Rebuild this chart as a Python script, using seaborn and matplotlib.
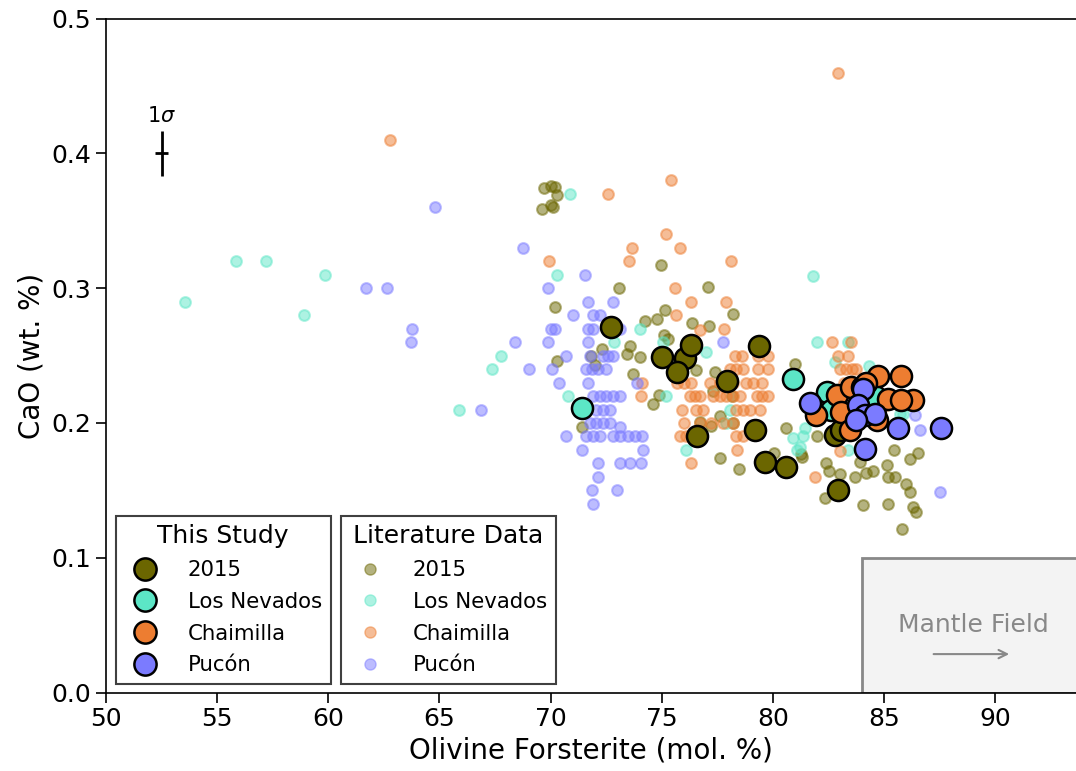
import numpy as np
import pandas as pd
import seaborn as sns
import matplotlib
matplotlib.use("Agg")
import matplotlib.pyplot as plt
from matplotlib.lines import Line2D
from matplotlib.patches import Rectangle

# ---------------- data ----------------
groups = ["2015", "Los Nevados", "Chaimilla", "Pucón"]
colors = ["#6b6600", "#5ce6c6", "#ed7d31", "#7b7bff"]

lit_2015_x = [69.7, 70.0, 70.2, 70.3, 69.6, 70.0, 70.1, 70.2, 70.3, 74.98, 73.07, 77.07, 75.13, 74.77,
              74.23, 76.38, 77.13, 78.18, 75.1, 75.28, 73.56, 73.44, 72.32, 74.04, 71.8, 71.99, 73.7,
              76.56, 77.4, 74.87, 74.59, 71.39, 77.3, 78.16, 77.6, 76.7, 77.2, 78.2, 77.6, 78.47,
              80.98, 80.6, 81.96, 81.28, 80.05, 81.3, 82.4, 82.5, 83.0, 82.33, 83.68, 84.2, 84.5,
              83.9, 85.43, 85.13, 85.17, 85.5, 86.15, 86.52, 86.0, 86.15, 86.3, 86.45, 84.05, 85.18, 85.8]
lit_2015_y = [0.374, 0.376, 0.375, 0.369, 0.359, 0.362, 0.360, 0.286, 0.246, 0.317, 0.300, 0.301, 0.284, 0.277,
              0.276, 0.274, 0.272, 0.281, 0.265, 0.262, 0.257, 0.251, 0.255, 0.249, 0.250, 0.243, 0.236,
              0.239, 0.238, 0.221, 0.214, 0.197, 0.224, 0.220, 0.205, 0.201, 0.198, 0.200, 0.174, 0.166,
              0.244, 0.196, 0.190, 0.177, 0.178, 0.175, 0.170, 0.164, 0.162, 0.144, 0.160, 0.163, 0.164,
              0.171, 0.180, 0.169, 0.160, 0.160, 0.173, 0.178, 0.155, 0.149, 0.138, 0.134, 0.139, 0.140, 0.121]

lit_ln_x = [53.55, 55.85, 57.18, 58.9, 59.85, 65.87, 67.37, 67.76, 70.3, 70.86, 70.79, 72.87, 74.01,
            75.06, 75.18, 76.08, 76.98, 78.06, 77.9, 81.8, 82.0, 83.38, 82.78, 84.32, 80.9, 81.36,
            81.43, 81.2, 81.1, 83.38, 85.85, 82.9, 85.7, 84.8]
lit_ln_y = [0.29, 0.32, 0.32, 0.28, 0.31, 0.21, 0.24, 0.25, 0.31, 0.37, 0.22, 0.26, 0.27,
            0.26, 0.22, 0.18, 0.253, 0.21, 0.20, 0.309, 0.26, 0.26, 0.245, 0.242, 0.189, 0.19,
            0.196, 0.182, 0.18, 0.18, 0.207, 0.215, 0.207, 0.22]

lit_ch_x = [62.77, 82.91, 69.93, 72.6, 75.42, 73.65, 75.2, 75.81, 73.52, 78.09, 75.6, 76.32, 77.9, 75.66,
            76.7, 77.79,
            78.3, 78.6, 79.33, 79.78,
            78.06, 78.35, 78.65, 79.33, 79.78,
            74.1, 75.7, 76.0, 76.33, 77.16, 77.6, 77.9, 78.2, 78.8, 79.1, 79.5,
            74.07, 76.26, 76.5, 76.7, 77.3, 77.6, 77.9, 78.2, 78.5, 79.26, 79.5, 79.78,
            75.9, 76.56, 76.86, 78.35, 78.65, 78.96, 79.4,
            76.0, 76.7, 77.2, 77.76, 78.2,
            75.8, 76.1, 76.4, 78.35, 78.65,
            78.39, 76.3, 81.9, 83.0,
            82.66, 83.5, 82.93, 83.38, 83.0, 83.3, 83.55, 83.75, 83.2, 84.0, 85.1]
lit_ch_y = [0.41, 0.46, 0.32, 0.37, 0.38, 0.33, 0.34, 0.33, 0.32, 0.32, 0.30, 0.29, 0.29, 0.28,
            0.269, 0.27,
            0.25, 0.25, 0.25, 0.25,
            0.24, 0.24, 0.24, 0.24, 0.24,
            0.23, 0.23, 0.23, 0.23, 0.23, 0.23, 0.23, 0.23, 0.23, 0.23, 0.23,
            0.22, 0.22, 0.22, 0.22, 0.22, 0.22, 0.22, 0.22, 0.22, 0.22, 0.22, 0.22,
            0.21, 0.21, 0.21, 0.21, 0.21, 0.21, 0.21,
            0.20, 0.20, 0.20, 0.20, 0.20,
            0.19, 0.19, 0.19, 0.19, 0.19,
            0.18, 0.17, 0.16, 0.179,
            0.26, 0.26, 0.25, 0.25, 0.24, 0.24, 0.24, 0.24, 0.23, 0.22, 0.213]

lit_pu_x = [64.8, 68.75, 61.69, 62.62, 63.75, 63.7, 66.85, 69.87, 70.0, 70.2, 68.39, 69.86, 69.03, 70.04,
            70.38, 71.53, 71.69, 72.81, 71.0, 71.9, 72.2, 71.69, 71.9, 73.1, 71.69, 70.7, 71.76, 72.35,
            72.6, 72.8, 71.6, 71.85, 72.14, 72.5, 71.69, 73.9,
            71.9, 72.2, 72.5, 72.8, 73.1,
            72.05, 72.35, 72.66,
            71.76, 72.05, 72.35, 72.66, 73.1,
            70.68, 71.6, 71.9, 72.2, 72.8, 73.1, 73.5, 73.8, 74.1,
            71.43, 74.16, 72.14, 73.1, 73.56, 74.08, 72.14, 71.86, 72.99, 71.9,
            77.73, 86.38, 86.6, 87.5]
lit_pu_y = [0.36, 0.33, 0.30, 0.30, 0.27, 0.26, 0.21, 0.30, 0.27, 0.27, 0.26, 0.26, 0.24, 0.24,
            0.23, 0.31, 0.29, 0.29, 0.28, 0.28, 0.28, 0.27, 0.27, 0.27, 0.26, 0.25, 0.25, 0.25,
            0.25, 0.25, 0.24, 0.24, 0.24, 0.24, 0.23, 0.23,
            0.22, 0.22, 0.22, 0.22, 0.22,
            0.21, 0.21, 0.21,
            0.20, 0.20, 0.20, 0.20, 0.197,
            0.19, 0.19, 0.19, 0.19, 0.19, 0.19, 0.19, 0.19, 0.19,
            0.18, 0.18, 0.17, 0.17, 0.17, 0.17, 0.16, 0.15, 0.15, 0.14,
            0.26, 0.206, 0.195, 0.149]

st_2015_x = [72.71, 75.0, 76.05, 76.3, 75.7, 76.6, 77.92, 79.38, 79.18, 79.65, 80.6, 82.92, 82.8, 83.05]
st_2015_y = [0.271, 0.249, 0.248, 0.258, 0.238, 0.190, 0.231, 0.257, 0.195, 0.171, 0.167, 0.150, 0.191, 0.195]
st_ln_x = [71.43, 80.92, 82.45, 82.6, 84.6]
st_ln_y = [0.211, 0.233, 0.223, 0.210, 0.220]
st_ch_x = [84.73, 85.78, 85.18, 86.32, 85.75, 82.9, 81.95, 83.08, 83.45, 84.7, 83.5, 84.0, 84.2]
st_ch_y = [0.235, 0.235, 0.218, 0.217, 0.217, 0.221, 0.206, 0.208, 0.195, 0.202, 0.227, 0.227, 0.230]
st_pu_x = [81.65, 84.05, 83.83, 84.15, 84.6, 83.75, 85.63, 87.57, 84.15]
st_pu_y = [0.215, 0.225, 0.213, 0.206, 0.207, 0.202, 0.196, 0.196, 0.181]

xticks = [50, 55, 60, 65, 70, 75, 80, 85, 90]
yticks = [0.0, 0.1, 0.2, 0.3, 0.4, 0.5]
ytick_labels = ["0.0", "0.1", "0.2", "0.3", "0.4", "0.5"]

# ---------------- build tables ----------------
lit = pd.concat([
    pd.DataFrame({"Fo": lit_2015_x, "CaO": lit_2015_y, "group": "2015"}),
    pd.DataFrame({"Fo": lit_ln_x, "CaO": lit_ln_y, "group": "Los Nevados"}),
    pd.DataFrame({"Fo": lit_ch_x, "CaO": lit_ch_y, "group": "Chaimilla"}),
    pd.DataFrame({"Fo": lit_pu_x, "CaO": lit_pu_y, "group": "Pucón"}),
], ignore_index=True)
study = pd.concat([
    pd.DataFrame({"Fo": st_2015_x, "CaO": st_2015_y, "group": "2015"}),
    pd.DataFrame({"Fo": st_ln_x, "CaO": st_ln_y, "group": "Los Nevados"}),
    pd.DataFrame({"Fo": st_ch_x, "CaO": st_ch_y, "group": "Chaimilla"}),
    pd.DataFrame({"Fo": st_pu_x, "CaO": st_pu_y, "group": "Pucón"}),
], ignore_index=True)
palette = dict(zip(groups, colors))

# ---------------- plot ----------------
plt.rcParams["font.family"] = ["DejaVu Sans"]

fig = plt.figure(figsize=(10.76, 7.71), dpi=100)
ax = fig.add_axes([106 / 1076, (771 - 692.5) / 771, 970 / 1076, (692.5 - 18.7) / 771])

ax.add_patch(Rectangle((84, 0), 20, 0.1, facecolor="#f3f3f3", edgecolor="#888888",
                       linewidth=2, zorder=0.5, clip_on=True))
ax.text(89.0, 0.05, "Mantle Field", color="#888888", fontsize=18, ha="center", va="center")
ax.annotate("", xy=(90.75, 0.0285), xytext=(87.1, 0.0285),
            arrowprops=dict(arrowstyle="->", color="#888888", lw=1.5, mutation_scale=15))

for g in groups:
    sub = lit[lit["group"] == g]
    sns.scatterplot(data=sub, x="Fo", y="CaO", color=palette[g], s=60, alpha=0.5,
                    edgecolor=palette[g], linewidth=1.5, ax=ax, legend=False, zorder=2)
for g in groups:
    sub = study[study["group"] == g]
    sns.scatterplot(data=sub, x="Fo", y="CaO", color=palette[g], s=230, alpha=1,
                    edgecolor="black", linewidth=1.8, ax=ax, legend=False, zorder=3)

ax.errorbar([52.5], [0.4], xerr=[0.3], yerr=[0.017], color="black", lw=2, capsize=0, fmt="none")
ax.text(52.5, 0.428, "1$\\sigma$", ha="center", va="center", fontsize=15, color="black")

ax.set_xlim(50, 93.63)
ax.set_ylim(0, 0.5)
ax.set_xticks(xticks)
ax.set_yticks(yticks)
ax.set_yticklabels(ytick_labels)
ax.tick_params(labelsize=18, length=7, width=1.2, colors="black")
ax.set_xlabel("Olivine Forsterite (mol. %)", fontsize=20, color="black")
ax.set_ylabel("CaO (wt. %)", fontsize=20, color="black")
for sp in ["left", "bottom", "top"]:
    ax.spines[sp].set_visible(True)
    ax.spines[sp].set_linewidth(1.2)
    ax.spines[sp].set_color("black")
ax.spines["right"].set_visible(False)

h_study = [Line2D([], [], marker="o", linestyle="", markersize=16, markerfacecolor=c,
                  markeredgecolor="black", markeredgewidth=1.8) for c in colors]
h_lit = [Line2D([], [], marker="o", linestyle="", markersize=8, markerfacecolor=c,
                markeredgecolor=c, alpha=0.5) for c in colors]

leg_kw = dict(loc="lower left", fontsize=15.3, title_fontsize=18, frameon=True, fancybox=False,
              framealpha=1, edgecolor="#404040", borderaxespad=0, handletextpad=1.0,
              labelspacing=0.55, borderpad=0.4)
leg1 = ax.legend(h_study, groups, title="This Study", bbox_to_anchor=(0.010, 0.013), **leg_kw)
leg1.get_frame().set_linewidth(1.5)
ax.add_artist(leg1)
leg2 = ax.legend(h_lit, groups, title="Literature Data", bbox_to_anchor=(0.242, 0.013), **leg_kw)
leg2.get_frame().set_linewidth(1.5)

fig.savefig("out.png", dpi=100)
